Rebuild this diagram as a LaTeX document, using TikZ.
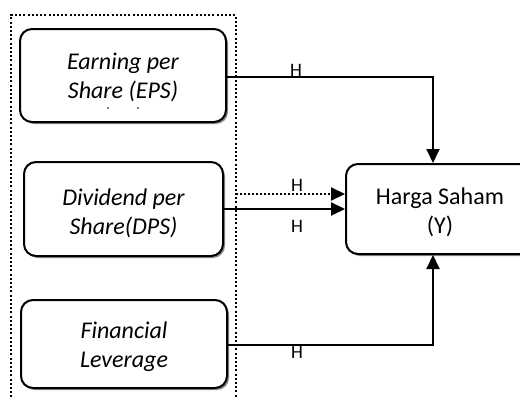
\documentclass[tikz,border=0pt]{standalone}
\usepackage{fontspec}
\setmainfont{Carlito}
\usetikzlibrary{arrows.meta,shadows}
\begin{document}
\begin{tikzpicture}[x=1pt,y=-1pt,
  box/.style={draw=black,line width=2pt,rounded corners=12pt,fill=white,
    drop shadow={shadow xshift=2pt,shadow yshift=-2pt,fill=black!45,opacity=1},
    inner sep=0pt},
  boxtext/.style={align=center,font=\fontsize{24}{29}\selectfont\itshape,inner sep=0pt},
  arr/.style={line width=2pt,-{Triangle[length=14pt,width=13pt]}},
  hlab/.style={font=\fontsize{19}{20}\selectfont,inner sep=0pt}]
\useasboundingbox (0,0) rectangle (520,399);
% dotted group border
\draw[line width=2pt,dash pattern=on 2pt off 2.2pt] (11,410) -- (11,15) -- (236,15) -- (236,410);
% boxes
\node[box,minimum width=206pt,minimum height=93pt] (eps) at (123,75.5) {};
\node[boxtext] (epst) at (123,77) {Earning per\\Share (EPS)};
\fill (108,108) circle (0.8pt) (138,108) circle (0.8pt);
\node[box,minimum width=199pt,minimum height=94pt] (dps) at (123.5,209) {};
\node[boxtext] (dpst) at (123.5,213) {Dividend per\\Share(DPS)};
\node[box,minimum width=206pt,minimum height=88pt] (fl) at (124,344) {};
\node[boxtext] (flt) at (124,347) {Financial\\Leverage};
\node[box,minimum width=188pt,minimum height=90pt] (harga) at (440,209) {};
\node[boxtext,font=\fontsize{24}{29}\selectfont] (hargat) at (440,212) {Harga Saham\\(Y)};
% connectors
\coordinate (epsout) at (226,77);
\coordinate (dotin) at (236,194);
\coordinate (flout) at (227,345);
\draw[arr] (epsout) -| ([xshift=-7pt]harga.north);
\draw[arr,dash pattern=on 2pt off 2pt] (dotin) -- (dotin -| harga.west);
\draw[arr] (dps.east) -- (harga.west);
\draw[arr] (flout) -| ([xshift=-7pt]harga.south);
% labels
\node[hlab] (h1) at (296,70) {H};
\node[hlab] (h2) at (297,185) {H};
\node[hlab] (h3) at (297,226) {H};
\node[hlab] (h4) at (297,352) {H};
\end{tikzpicture}
\end{document}
